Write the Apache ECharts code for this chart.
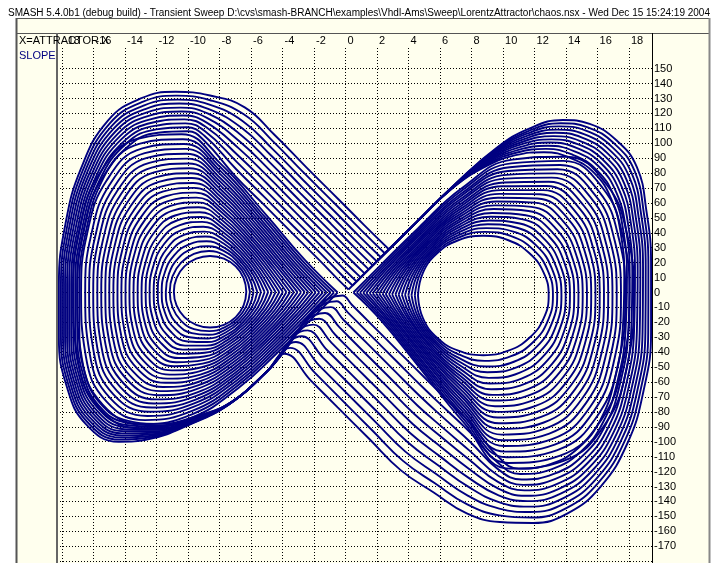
<!DOCTYPE html>
<html>
<head>
<meta charset="utf-8">
<script src="https://cdn.jsdelivr.net/npm/echarts@6/dist/echarts.min.js"></script>
<style>
html,body{margin:0;padding:0;background:#ffffff;}
#chart{width:715px;height:563px;}
</style>
</head>
<body>
<div id="chart"></div>
<script>
// ---------------- data ----------------
const titleText = 'SMASH 5.4.0b1 (debug build) - Transient Sweep D:\\cvs\\smash-BRANCH\\examples\\Vhdl-Ams\\Sweep\\LorentzAttractor\\chaos.nsx - Wed Dec 15 15:24:19 2004';
const xAxisName = 'X=ATTRACTOR.X';
const yAxisName = 'SLOPE';
const xTickValues = [-18,-16,-14,-12,-10,-8,-6,-4,-2,0,2,4,6,8,10,12,14,16,18];
const yGridValues = [-180,-170,-160,-150,-140,-130,-120,-110,-100,-90,-80,-70,-60,-50,-40,-30,-20,-10,0,10,20,30,40,50,60,70,80,90,100,110,120,130,140,150];
const yLabelValues = [-170,-160,-150,-140,-130,-120,-110,-100,-90,-80,-70,-60,-50,-40,-30,-20,-10,0,10,20,30,40,50,60,70,80,90,100,110,120,130,140,150];

// loops around the left fixed point: flat x,slope pairs, clockwise from the right "nose"
const leftNoseLoops = [
[-6.3,0.5,-6.47,-8.7,-6.97,-16.5,-7.72,-21.7,-8.6,-23.5,-9.48,-21.7,-10.23,-16.5,-10.73,-8.7,-10.9,0.5,-10.73,9.7,-10.23,17.5,-9.48,22.7,-8.6,24.5,-7.72,22.7,-6.97,17.5,-6.47,9.7],
[-6.07,0.5,-6.29,-9.0,-6.86,-17.4,-7.68,-23.4,-8.65,-25.9,-9.62,-24.5,-10.44,-19.0,-10.98,-10.2,-11.16,0.5,-10.98,11.0,-10.44,20.0,-9.63,25.9,-8.67,27.8,-7.74,25.3,-6.89,18.9,-6.32,10.2],
[-5.84,0.5,-6.11,-9.3,-6.75,-18.3,-7.65,-25.1,-8.7,-28.3,-9.76,-27.2,-10.66,-21.4,-11.23,-11.6,-11.41,0.5,-11.22,12.3,-10.66,22.5,-9.78,29.1,-8.74,31.0,-7.74,27.9,-6.81,20.2,-6.16,10.7],
[-5.6,0.4,-5.93,-9.6,-6.64,-19.2,-7.61,-26.8,-8.74,-30.8,-9.9,-30.0,-10.87,-23.9,-11.48,-13.1,-11.67,0.4,-11.47,13.6,-10.87,25.0,-9.93,32.3,-8.82,34.3,-7.76,30.4,-6.73,21.6,-6.01,11.2],
[-5.37,0.4,-5.76,-9.9,-6.53,-20.1,-7.57,-28.5,-8.79,-33.2,-10.04,-32.8,-11.09,-26.3,-11.73,-14.5,-11.92,0.4,-11.72,14.9,-11.09,27.5,-10.08,35.6,-8.89,37.5,-7.76,33.0,-6.66,22.9,-5.85,11.7],
[-5.14,0.4,-5.58,-10.2,-6.42,-21.0,-7.54,-30.2,-8.84,-35.6,-10.18,-35.6,-11.3,-28.8,-11.98,-16.0,-12.18,0.4,-11.96,16.2,-11.3,30.0,-10.22,38.8,-8.96,40.8,-7.78,35.6,-6.58,24.3,-5.7,12.2],
[-4.91,0.4,-5.4,-10.5,-6.31,-21.9,-7.5,-31.9,-8.89,-38.0,-10.33,-38.3,-11.52,-31.3,-12.24,-17.4,-12.44,0.4,-12.21,17.5,-11.52,32.5,-10.37,42.0,-9.03,44.1,-7.79,38.2,-6.5,25.7,-5.54,12.7],
[-4.68,0.4,-5.22,-10.7,-6.19,-22.8,-7.46,-33.5,-8.94,-40.4,-10.47,-41.1,-11.73,-33.7,-12.49,-18.9,-12.69,0.4,-12.46,18.7,-11.73,35.0,-10.52,45.2,-9.1,47.3,-7.8,40.7,-6.42,27.0,-5.39,13.1],
[-4.44,0.3,-5.04,-11.0,-6.08,-23.7,-7.43,-35.2,-8.98,-42.9,-10.61,-43.9,-11.95,-36.2,-12.74,-20.3,-12.95,0.3,-12.7,20.0,-11.95,37.5,-10.67,48.4,-9.18,50.6,-7.81,43.2,-6.34,28.4,-5.23,13.6],
[-4.21,0.3,-4.86,-11.3,-5.97,-24.6,-7.39,-36.9,-9.03,-45.3,-10.75,-46.7,-12.16,-38.6,-12.99,-21.8,-13.2,0.3,-12.95,21.3,-12.16,40.0,-10.82,51.6,-9.25,53.8,-7.82,45.8,-6.26,29.7,-5.08,14.1],
[-3.98,0.3,-4.68,-11.6,-5.86,-25.5,-7.35,-38.6,-9.08,-47.7,-10.89,-49.4,-12.38,-41.1,-13.24,-23.2,-13.46,0.3,-13.2,22.6,-12.38,42.5,-10.97,54.8,-9.32,57.1,-7.83,48.4,-6.18,31.1,-4.92,14.6],
[-3.75,0.3,-4.5,-11.9,-5.75,-26.4,-7.32,-40.3,-9.13,-50.1,-11.03,-52.2,-12.59,-43.6,-13.49,-24.7,-13.72,0.3,-13.45,23.9,-12.59,45.0,-11.12,58.0,-9.39,60.4,-7.85,51.0,-6.1,32.5,-4.77,15.1],
[-3.52,0.3,-4.32,-12.2,-5.64,-27.3,-7.28,-42.0,-9.18,-52.5,-11.17,-55.0,-12.81,-46.0,-13.74,-26.1,-13.97,0.3,-13.69,25.2,-12.81,47.5,-11.27,61.2,-9.46,63.6,-7.85,53.6,-6.02,33.8,-4.61,15.6],
[-3.28,0.2,-4.15,-12.5,-5.53,-28.2,-7.24,-43.7,-9.22,-55.0,-11.31,-57.7,-13.02,-48.5,-13.99,-27.6,-14.23,0.2,-13.94,26.5,-13.02,50.0,-11.41,64.5,-9.54,66.9,-7.87,56.1,-5.95,35.2,-4.46,16.1],
[-3.05,0.2,-3.97,-12.8,-5.42,-29.1,-7.21,-45.4,-9.27,-57.4,-11.45,-60.5,-13.24,-50.9,-14.24,-29.0,-14.48,0.2,-14.19,27.8,-13.24,52.5,-11.56,67.7,-9.61,70.1,-7.87,58.7,-5.87,36.5,-4.3,16.6],
[-2.82,0.2,-3.79,-13.1,-5.31,-30.0,-7.17,-47.1,-9.32,-59.8,-11.59,-63.3,-13.45,-53.4,-14.49,-30.5,-14.74,0.2,-14.43,29.1,-13.45,55.0,-11.71,70.9,-9.68,73.4,-7.89,61.3,-5.79,37.9,-4.15,17.1],
[-2.59,0.2,-3.61,-13.4,-5.2,-30.9,-7.13,-48.8,-9.37,-62.2,-11.73,-66.1,-13.67,-55.9,-14.74,-31.9,-15.0,0.2,-14.68,30.4,-13.67,57.5,-11.86,74.1,-9.75,76.7,-7.9,63.9,-5.71,39.3,-3.99,17.6],
[-2.36,0.2,-3.43,-13.7,-5.09,-31.8,-7.09,-50.5,-9.42,-64.6,-11.87,-68.8,-13.88,-58.3,-14.99,-33.4,-15.25,0.2,-14.93,31.7,-13.88,60.0,-12.01,77.3,-9.82,79.9,-7.91,66.5,-5.63,40.6,-3.84,18.1],
[-2.12,0.1,-3.25,-14.0,-4.98,-32.7,-7.06,-52.2,-9.46,-67.1,-12.01,-71.6,-14.1,-60.8,-15.24,-34.8,-15.51,0.1,-15.17,33.0,-14.1,62.5,-12.16,80.5,-9.9,83.2,-7.92,69.0,-5.55,42.0,-3.68,18.6],
[-1.89,0.1,-3.07,-14.3,-4.87,-33.6,-7.02,-53.9,-9.51,-69.5,-12.16,-74.4,-14.31,-63.2,-15.5,-36.3,-15.76,0.1,-15.42,34.3,-14.31,65.0,-12.31,83.7,-9.97,86.4,-7.93,71.6,-5.47,43.3,-3.53,19.1],
[-1.66,0.1,-2.89,-14.5,-4.75,-34.5,-6.98,-55.5,-9.56,-71.9,-12.3,-77.1,-14.53,-65.7,-15.75,-37.7,-16.02,0.1,-15.67,35.5,-14.53,67.5,-12.46,86.9,-10.04,89.7,-7.94,74.1,-5.39,44.7,-3.37,19.5],
[-1.43,0.1,-2.72,-14.8,-4.64,-35.4,-6.95,-57.2,-9.61,-74.3,-12.44,-79.9,-14.74,-68.2,-16.0,-39.2,-16.28,0.1,-15.91,36.8,-14.74,70.0,-12.61,90.2,-10.11,93.0,-7.96,76.7,-5.32,46.1,-3.22,20.0],
[-1.2,0.1,-2.54,-15.1,-4.53,-36.3,-6.91,-58.9,-9.66,-76.7,-12.58,-82.7,-14.96,-70.6,-16.25,-40.6,-16.53,0.1,-16.16,38.1,-14.96,72.5,-12.75,93.4,-10.18,96.2,-7.96,79.3,-5.24,47.4,-3.06,20.5],
[-0.96,0,-2.36,-15.4,-4.42,-37.2,-6.87,-60.6,-9.7,-79.2,-12.72,-85.5,-15.17,-73.1,-16.5,-42.1,-16.79,0,-16.41,39.4,-15.17,75.0,-12.9,96.6,-10.26,99.5,-7.98,81.8,-5.16,48.8,-2.91,21.0],
[-0.73,0,-2.18,-15.7,-4.31,-38.1,-6.84,-62.3,-9.75,-81.6,-12.86,-88.2,-15.39,-75.5,-16.75,-43.6,-17.04,0,-16.65,40.7,-15.39,77.5,-13.05,99.8,-10.33,102.7,-7.99,84.4,-5.08,50.1,-2.76,21.5],
[-0.5,0,-2.0,-16,-4.2,-39,-6.8,-64,-9.8,-84,-13.0,-91,-15.6,-78,-17.0,-45,-17.3,0,-16.9,42,-15.6,80,-13.2,103,-10.4,106,-8.0,87,-5.0,51.5,-2.6,22]
];

// loops around the right fixed point: flat x,slope pairs, clockwise from the left "nose"
const rightNoseLoops = [
[4.6,-2,4.92,13.3,5.82,26.3,7.16,35.0,8.75,38.0,10.34,35.0,11.68,26.3,12.58,13.3,12.9,-2.0,12.58,-17.3,11.68,-30.3,10.34,-39.0,8.75,-42.0,7.16,-39.0,5.82,-30.3,4.92,-17.3],
[4.4,-1.9,4.78,13.5,5.76,27.1,7.17,36.8,8.84,40.6,10.52,37.8,11.93,28.6,12.85,14.5,13.17,-2.0,12.85,-18.8,11.92,-33.2,10.51,-42.7,8.83,-45.8,7.18,-41.4,5.76,-31.2,4.78,-17.3],
[4.19,-1.8,4.65,13.8,5.7,28.0,7.18,38.5,8.94,43.1,10.71,40.6,12.17,30.9,13.11,15.8,13.44,-2.0,13.11,-20.4,12.16,-36.1,10.69,-46.4,8.92,-49.6,7.19,-43.8,5.7,-32.2,4.65,-17.4],
[3.99,-1.7,4.51,14.0,5.64,28.8,7.2,40.3,9.03,45.7,10.89,43.4,12.42,33.2,13.38,17.0,13.71,-2.0,13.38,-21.9,12.4,-39.0,10.86,-50.1,9.0,-53.4,7.21,-46.2,5.64,-33.1,4.51,-17.4],
[3.78,-1.6,4.38,14.2,5.58,29.6,7.21,42.0,9.12,48.2,11.07,46.2,12.66,35.4,13.64,18.2,13.98,-2.0,13.64,-23.4,12.64,-41.8,11.03,-53.8,9.08,-57.2,7.23,-48.6,5.58,-34.0,4.38,-17.4],
[3.58,-1.5,4.24,14.5,5.52,30.5,7.22,43.8,9.21,50.8,11.26,49.0,12.91,37.7,13.91,19.5,14.25,-2.0,13.91,-25.0,12.89,-44.7,11.21,-57.5,9.16,-61.0,7.25,-51.0,5.52,-35.0,4.24,-17.5],
[3.37,-1.4,4.1,14.7,5.45,31.3,7.23,45.5,9.31,53.3,11.44,51.8,13.16,40.0,14.18,20.7,14.52,-2.0,14.18,-26.5,13.13,-47.6,11.38,-61.2,9.25,-64.8,7.26,-53.4,5.45,-35.9,4.1,-17.5],
[3.17,-1.3,3.97,14.9,5.39,32.1,7.24,47.3,9.4,55.9,11.62,54.6,13.4,42.3,14.44,21.9,14.79,-2.0,14.44,-28.0,13.37,-50.5,11.55,-64.9,9.33,-68.6,7.28,-55.8,5.39,-36.8,3.97,-17.5],
[2.96,-1.2,3.83,15.2,5.33,33.0,7.26,49.0,9.49,58.4,11.8,57.4,13.65,44.6,14.71,23.2,15.06,-2.0,14.71,-29.6,13.61,-53.4,11.72,-68.6,9.41,-72.4,7.3,-58.2,5.33,-37.8,3.83,-17.6],
[2.76,-1.1,3.7,15.4,5.27,33.8,7.27,50.8,9.58,61.0,11.99,60.2,13.89,46.9,14.97,24.4,15.33,-2.0,14.97,-31.1,13.85,-56.3,11.9,-72.3,9.49,-76.2,7.32,-60.6,5.27,-38.7,3.7,-17.6],
[2.55,-1.0,3.56,15.7,5.21,34.7,7.28,52.5,9.68,63.5,12.17,63.0,14.14,49.2,15.24,25.7,15.6,-2.0,15.24,-32.7,14.09,-59.2,12.07,-76.0,9.58,-80.0,7.33,-63.0,5.21,-39.7,3.56,-17.7],
[2.35,-0.9,3.42,15.9,5.15,35.5,7.29,54.3,9.77,66.1,12.35,65.8,14.39,51.4,15.51,26.9,15.87,-2.0,15.51,-34.2,14.33,-62.0,12.24,-79.7,9.66,-83.8,7.35,-65.4,5.15,-40.6,3.42,-17.7],
[2.14,-0.8,3.29,16.1,5.09,36.3,7.3,56.0,9.86,68.6,12.54,68.6,14.63,53.7,15.77,28.1,16.14,-2.0,15.77,-35.7,14.57,-64.9,12.42,-83.4,9.74,-87.6,7.36,-67.8,5.09,-41.5,3.29,-17.7],
[1.94,-0.7,3.15,16.4,5.03,37.2,7.32,57.8,9.95,71.2,12.72,71.4,14.88,56.0,16.04,29.4,16.41,-2.0,16.04,-37.3,14.81,-67.8,12.59,-87.1,9.82,-91.4,7.39,-70.2,5.03,-42.5,3.15,-17.8],
[1.73,-0.6,3.02,16.6,4.97,38.0,7.33,59.5,10.05,73.7,12.9,74.2,15.12,58.3,16.3,30.6,16.68,-2.0,16.3,-38.8,15.05,-70.7,12.76,-90.8,9.91,-95.2,7.4,-72.6,4.97,-43.4,3.02,-17.8],
[1.53,-0.5,2.88,16.8,4.91,38.8,7.34,61.3,10.14,76.3,13.09,77.0,15.37,60.6,16.57,31.8,16.95,-2.0,16.57,-40.3,15.3,-73.6,12.94,-94.5,9.99,-99.0,7.42,-75.0,4.91,-44.3,2.88,-17.8],
[1.32,-0.4,2.74,17.1,4.84,39.7,7.35,63.0,10.23,78.8,13.27,79.8,15.62,62.9,16.84,33.1,17.22,-2.0,16.84,-41.9,15.54,-76.5,13.11,-98.2,10.07,-102.8,7.43,-77.4,4.84,-45.3,2.74,-17.9],
[1.12,-0.3,2.61,17.3,4.78,40.5,7.36,64.8,10.32,81.4,13.45,82.6,15.86,65.1,17.1,34.3,17.49,-2.0,17.1,-43.4,15.78,-79.3,13.28,-101.9,10.15,-106.6,7.45,-79.8,4.78,-46.2,2.61,-17.9],
[0.91,-0.2,2.47,17.5,4.72,41.3,7.38,66.5,10.42,83.9,13.63,85.4,16.11,67.4,17.37,35.5,17.76,-2.0,17.37,-44.9,16.02,-82.2,13.45,-105.6,10.24,-110.4,7.47,-82.2,4.72,-47.1,2.47,-17.9],
[0.71,-0.1,2.34,17.8,4.66,42.2,7.39,68.3,10.51,86.5,13.82,88.2,16.35,69.7,17.63,36.8,18.03,-2.0,17.63,-46.5,16.26,-85.1,13.63,-109.3,10.32,-114.2,7.49,-84.6,4.66,-48.1,2.34,-18.0],
[0.5,0,2.2,18,4.6,43,7.4,70,10.6,89,14.0,91,16.6,72,17.9,38,18.3,-2,17.9,-48,16.5,-88,13.8,-113,10.4,-118,7.5,-87,4.6,-49,2.2,-18]
];

// lobe-to-lobe passages: turning points just above and just below the origin
const passageApex = [[0.19,2],[0.45,4.7],[0.7,7.4],[0.96,10.1],[1.21,12.8],[1.47,15.5],[1.73,18.2],[1.98,20.9],[2.24,23.6],[2.49,26.3],[2.75,29]];
const passageBase = [[-0.19,-2],[-0.56,-5.9],[-0.93,-9.8],[-1.3,-13.7],[-1.67,-17.6],[-2.04,-21.5],[-2.41,-25.4],[-2.78,-29.3],[-3.15,-33.2],[-3.52,-37.1],[-3.89,-41]];
// right-lobe circuit of each passage (from the rising band up to just below the origin)
const passageRightArcs = [
[4.5,47,6.8,70,9.0,85,10.8,92,12.6,94,14.3,90,15.8,80,16.9,62,17.5,38,17.7,10,17.6,-25,17.1,-58,16.2,-85,14.8,-104,13.0,-115,11.0,-118,9.6,-109,8.0,-88.4,6.6,-73.6,5.0,-56.8,3.4,-39.9,1.8,-23,0.4,-8.2],
[4.5,47,6.82,70.3,9.06,86.2,10.89,93.8,12.72,96.2,14.42,92.3,15.94,82.2,17.06,64.2,17.66,39.7,17.87,11,17.78,-25.2,17.28,-58.9,16.37,-86.6,14.94,-106.6,13.11,-118.3,11.09,-121.6,9.62,-113.5,7.97,-94.4,6.5,-79.6,4.85,-63,3.21,-45.7,1.57,-28.4,0.14,-13.3],
[4.5,47,6.84,70.6,9.12,87.4,10.98,95.6,12.84,98.3,14.54,94.6,16.08,84.4,17.22,66.4,17.82,41.4,18.04,12,17.96,-25.4,17.46,-59.8,16.54,-88.2,15.08,-109.2,13.22,-121.6,11.18,-125.3,9.64,-118.0,7.94,-100.3,6.4,-85.7,4.7,-69.2,3.02,-51.5,1.34,-33.8,-0.12,-18.4],
[4.5,47,6.86,70.9,9.18,88.6,11.07,97.4,12.96,100.5,14.66,96.9,16.22,86.6,17.38,68.6,17.98,43.1,18.21,13,18.14,-25.6,17.64,-60.7,16.71,-89.8,15.22,-111.8,13.33,-124.9,11.27,-128.9,9.66,-122.4,7.91,-106.3,6.3,-91.7,4.55,-75.5,2.83,-57.3,1.11,-39.2,-0.38,-23.4],
[4.5,47,6.88,71.2,9.24,89.8,11.16,99.2,13.08,102.6,14.78,99.2,16.36,88.8,17.54,70.8,18.14,44.8,18.38,14,18.32,-25.8,17.82,-61.6,16.88,-91.4,15.36,-114.4,13.44,-128.2,11.36,-132.6,9.68,-126.9,7.88,-112.2,6.2,-97.8,4.4,-81.7,2.64,-63.1,0.88,-44.6,-0.64,-28.5],
[4.5,47,6.9,71.5,9.3,91,11.25,101,13.2,104.8,14.9,101.5,16.5,91,17.7,73,18.3,46.5,18.55,15,18.5,-26,18.0,-62.5,17.05,-93,15.5,-117,13.55,-131.5,11.45,-136.2,9.7,-131.4,7.85,-118.2,6.1,-103.8,4.25,-87.9,2.45,-68.9,0.65,-50,-0.9,-33.6],
[4.5,47,6.92,71.8,9.36,92.2,11.34,102.8,13.32,107,15.02,103.8,16.64,93.2,17.86,75.2,18.46,48.2,18.72,16,18.68,-26.2,18.18,-63.4,17.22,-94.6,15.64,-119.6,13.66,-134.8,11.54,-139.8,9.72,-135.9,7.82,-124.2,6.0,-109.8,4.1,-94.1,2.26,-74.8,0.42,-55.4,-1.16,-38.7],
[4.5,47,6.94,72.1,9.42,93.4,11.43,104.6,13.44,109.1,15.14,106.1,16.78,95.4,18.02,77.4,18.62,49.9,18.89,17,18.86,-26.4,18.36,-64.3,17.39,-96.2,15.78,-122.2,13.77,-138.1,11.63,-143.5,9.74,-140.4,7.79,-130.1,5.9,-115.9,3.95,-100.3,2.07,-80.6,0.19,-60.8,-1.42,-43.8],
[4.5,47,6.96,72.4,9.48,94.6,11.52,106.4,13.56,111.3,15.26,108.4,16.92,97.6,18.18,79.6,18.78,51.6,19.06,18,19.04,-26.6,18.54,-65.2,17.56,-97.8,15.92,-124.8,13.88,-141.4,11.72,-147.1,9.76,-144.8,7.76,-136.1,5.8,-121.9,3.8,-106.6,1.88,-86.5,-0.04,-66.2,-1.68,-48.8],
[4.5,47,6.98,72.7,9.54,95.8,11.61,108.2,13.68,113.4,15.38,110.7,17.06,99.8,18.34,81.8,18.94,53.3,19.23,19,19.22,-26.8,18.72,-66.1,17.73,-99.4,16.06,-127.4,13.99,-144.7,11.81,-150.8,9.78,-149.3,7.73,-142.0,5.7,-128.0,3.65,-112.8,1.69,-92.3,-0.27,-71.6,-1.94,-53.9],
[4.5,47,7.0,73,9.6,97,11.7,110,13.8,115.6,15.5,113,17.2,102,18.5,84,19.1,55,19.4,20,19.4,-27,18.9,-67,17.9,-101,16.2,-130,14.1,-148,11.9,-154.4,9.8,-153.8,7.7,-148,5.6,-134,3.5,-119,1.5,-98,-0.5,-77,-2.2,-59]
];
// left-lobe circuit of each passage (from the falling band down-left, round, back to just above the origin)
const passageLeftArcs = [
[-5.0,-53,-7.2,-73,-9.5,-83,-11.8,-88,-13.8,-86,-15.6,-74,-16.6,-52,-16.9,-25,-16.9,5,-16.5,40,-15.5,74,-13.8,98,-11.9,107,-10.0,108,-9.0,102,-7.0,78,-5.2,59,-3.4,40,-1.6,21,-0.4,8],
[-5.0,-53,-7.22,-73.2,-9.55,-83.6,-11.86,-89,-13.86,-87.4,-15.69,-75.4,-16.71,-53.1,-17.03,-25.5,-17.03,5,-16.63,40.5,-15.63,74.9,-13.93,99.7,-12.01,109.3,-10.08,110.7,-8.96,105.0,-6.94,82.6,-5.13,63.7,-3.31,44.4,-1.49,25.2,-0.24,11.7],
[-5.0,-53,-7.24,-73.4,-9.6,-84.2,-11.92,-90,-13.92,-88.8,-15.78,-76.8,-16.82,-54.2,-17.16,-26,-17.16,5,-16.76,41,-15.76,75.8,-14.06,101.4,-12.12,111.6,-10.16,113.3,-8.92,108.0,-6.88,87.2,-5.06,68.3,-3.22,48.8,-1.38,29.4,-0.08,15.4],
[-5.0,-53,-7.26,-73.6,-9.65,-84.8,-11.98,-91,-13.98,-90.2,-15.87,-78.2,-16.93,-55.3,-17.29,-26.5,-17.29,5,-16.89,41.5,-15.89,76.7,-14.19,103.1,-12.23,113.9,-10.24,116,-8.88,111.0,-6.82,91.8,-4.99,73,-3.13,53.2,-1.27,33.6,0.08,19.1],
[-5.0,-53,-7.28,-73.8,-9.7,-85.4,-12.04,-92,-14.04,-91.6,-15.96,-79.6,-17.04,-56.4,-17.42,-27,-17.42,5,-17.02,42,-16.02,77.6,-14.32,104.8,-12.34,116.2,-10.32,118.6,-8.84,114.0,-6.76,96.4,-4.92,77.6,-3.04,57.6,-1.16,37.8,0.24,22.8],
[-5.0,-53,-7.3,-74,-9.75,-86,-12.1,-93,-14.1,-93,-16.05,-81,-17.15,-57.5,-17.55,-27.5,-17.55,5,-17.15,42.5,-16.15,78.5,-14.45,106.5,-12.45,118.5,-10.4,121.3,-8.8,117.0,-6.7,101,-4.85,82.3,-2.95,62,-1.05,42,0.4,26.5],
[-5.0,-53,-7.32,-74.2,-9.8,-86.6,-12.16,-94,-14.16,-94.4,-16.14,-82.4,-17.26,-58.6,-17.68,-28,-17.68,5,-17.28,43,-16.28,79.4,-14.58,108.2,-12.56,120.8,-10.48,123.9,-8.76,120.0,-6.64,105.6,-4.78,86.9,-2.86,66.4,-0.94,46.2,0.56,30.2],
[-5.0,-53,-7.34,-74.4,-9.85,-87.2,-12.22,-95,-14.22,-95.8,-16.23,-83.8,-17.37,-59.7,-17.81,-28.5,-17.81,5,-17.41,43.5,-16.41,80.3,-14.71,109.9,-12.67,123.1,-10.56,126.6,-8.72,123.0,-6.58,110.2,-4.71,91.6,-2.77,70.8,-0.83,50.4,0.72,33.9],
[-5.0,-53,-7.36,-74.6,-9.9,-87.8,-12.28,-96,-14.28,-97.2,-16.32,-85.2,-17.48,-60.8,-17.94,-29,-17.94,5,-17.54,44,-16.54,81.2,-14.84,111.6,-12.78,125.4,-10.64,129.2,-8.68,126.0,-6.52,114.8,-4.64,96.2,-2.68,75.2,-0.72,54.6,0.88,37.6],
[-5.0,-53,-7.38,-74.8,-9.95,-88.4,-12.34,-97,-14.34,-98.6,-16.41,-86.6,-17.59,-61.9,-18.07,-29.5,-18.07,5,-17.67,44.5,-16.67,82.1,-14.97,113.3,-12.89,127.7,-10.72,131.9,-8.64,129.0,-6.46,119.4,-4.57,100.9,-2.59,79.6,-0.61,58.8,1.04,41.3],
[-5.0,-53,-7.4,-75,-10.0,-89,-12.4,-98,-14.4,-100,-16.5,-88,-17.7,-63,-18.2,-30,-18.2,5,-17.8,45,-16.8,83,-15.1,115,-13.0,130,-10.8,134.5,-8.6,132,-6.4,124,-4.5,105.5,-2.5,84,-0.5,63,1.2,45]
];

// ---------------- chart ----------------
const FONT = '"Liberation Sans", Arial, sans-serif';
const NAVY = '#000080';

function toPairs(flat) {
  const out = [];
  for (let i = 0; i + 1 < flat.length; i += 2) out.push([flat[i], flat[i + 1]]);
  return out;
}
function closedLoop(flat) {
  const p = toPairs(flat);
  p.push(p[0].slice());
  return p;
}
function passagePath(i) {
  const p = [passageApex[i].slice()];
  toPairs(passageRightArcs[i]).forEach(function (q) { p.push(q); });
  p.push(passageBase[i].slice());
  toPairs(passageLeftArcs[i]).forEach(function (q) { p.push(q); });
  p.push(passageApex[i].slice());
  return p;
}

const paths = [];
leftNoseLoops.forEach(function (f) { paths.push(closedLoop(f)); });
rightNoseLoops.forEach(function (f) { paths.push(closedLoop(f)); });
passageApex.forEach(function (a, i) { paths.push(passagePath(i)); });

const series = paths.map(function (path) {
  return {
    type: 'line',
    data: path,
    showSymbol: false,
    smooth: 0.45,
    silent: true,
    clip: true,
    lineStyle: {color: NAVY, width: 1.9},
    z: 5
  };
});

const chart = echarts.init(document.getElementById('chart'), null, {renderer: 'canvas'});
chart.setOption({
  animation: false,
  backgroundColor: 'transparent',
  title: {
    text: titleText,
    left: 3,
    top: 3,
    textStyle: {fontFamily: FONT, fontSize: 10, fontWeight: 'normal', color: '#000'}
  },
  grid: {left: 57, right: 63, top: 48, bottom: 0, containLabel: false},
  xAxis: {
    type: 'value',
    position: 'top',
    min: -18.32,
    max: 19.46,
    axisLine: {show: false},
    axisTick: {show: true, customValues: xTickValues, inside: false, length: 15,
      lineStyle: {color: '#000', width: 1, type: [1, 2]}},
    axisLabel: {show: true, customValues: xTickValues, align: 'left', verticalAlign: 'middle',
      margin: 7, padding: [0, 0, 0, 2], fontFamily: FONT, fontSize: 11, color: '#000'},
    splitLine: {show: true, lineStyle: {color: '#000', width: 1, type: [1, 2]}}
  },
  yAxis: {
    type: 'value',
    position: 'right',
    min: -181.24,
    max: 163.82,
    axisLine: {show: false},
    axisTick: {show: false, customValues: yGridValues},
    axisLabel: {show: true, customValues: yLabelValues, margin: 2, align: 'left',
      fontFamily: FONT, fontSize: 11, color: '#000'},
    splitLine: {show: true, lineStyle: {color: '#000', width: 1, type: [1, 2]}}
  },
  graphic: [
    {type: 'rect', z: -10, silent: true, shape: {x: 16, y: 18, width: 694, height: 560},
      style: {fill: '#FFFFEE', stroke: null}},
    {type: 'line', z: 10, silent: true, shape: {x1: 16, y1: 18.5, x2: 710, y2: 18.5}, style: {stroke: '#555', lineWidth: 1}},
    {type: 'line', z: 10, silent: true, shape: {x1: 16, y1: 33.5, x2: 710, y2: 33.5}, style: {stroke: '#555', lineWidth: 1}},
    {type: 'line', z: 10, silent: true, shape: {x1: 16.5, y1: 18, x2: 16.5, y2: 563}, style: {stroke: '#555', lineWidth: 2}},
    {type: 'line', z: 10, silent: true, shape: {x1: 709.5, y1: 18, x2: 709.5, y2: 563}, style: {stroke: '#888', lineWidth: 2}},
    {type: 'line', z: 10, silent: true, shape: {x1: 57, y1: 33, x2: 57, y2: 563}, style: {stroke: '#666', lineWidth: 2}},
    {type: 'line', z: 10, silent: true, shape: {x1: 652.5, y1: 33, x2: 652.5, y2: 563}, style: {stroke: '#000', lineWidth: 1}},
    {type: 'text', z: 11, silent: true, left: 19, top: 35,
      style: {text: xAxisName, fill: '#000', font: '11px ' + FONT}},
    {type: 'text', z: 11, silent: true, left: 19, top: 50,
      style: {text: yAxisName, fill: NAVY, font: '11px ' + FONT}}
  ],
  series: series
});
</script>
</body>
</html>
